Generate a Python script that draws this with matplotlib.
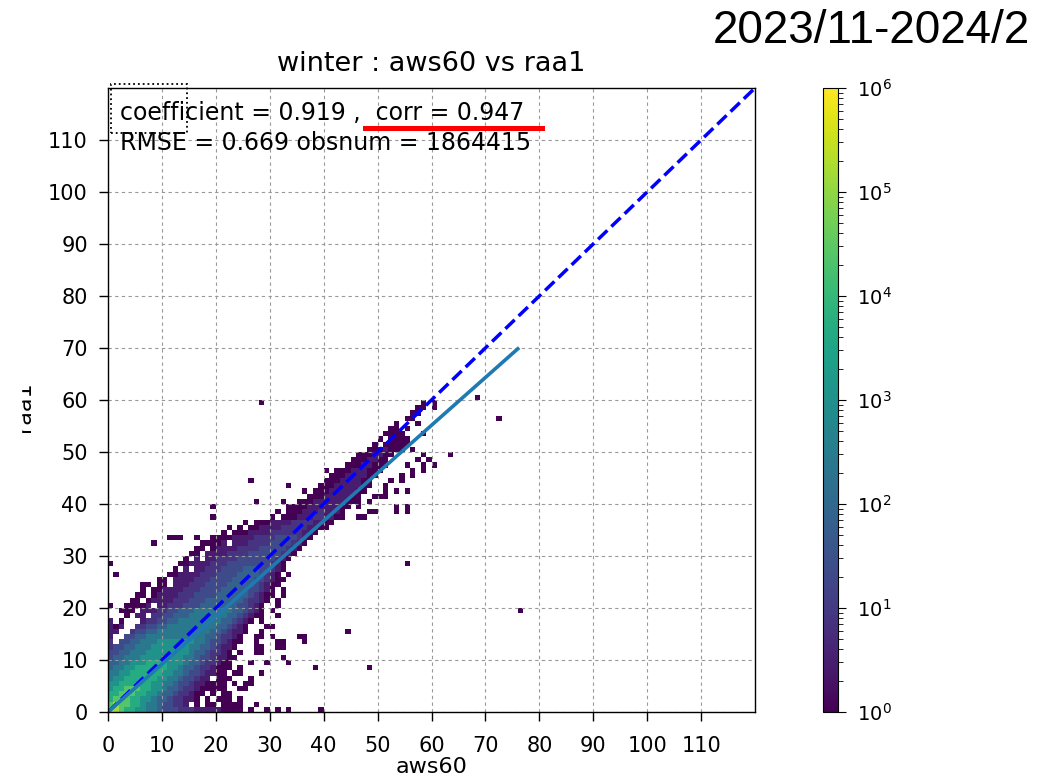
import numpy as np
import matplotlib.pyplot as plt
from matplotlib.colors import LogNorm
from matplotlib.patches import Rectangle
from matplotlib.lines import Line2D

# 1x1 bins: (y bin, first x bin, levels)
# each digit is a colour level, '.' is an empty bin
hist_rows = [
    (0, 0, "9987766554 3332221111 10000.0..0 .0.0.....0"),
    (1, 0, "8988776554 33221.0.00 .0000..0.."),
    (2, 0, "7888776654 4322110.0. 000.0"),
    (3, 0, "7788877665 44322100.0 .00"),
    (4, 0, "6778887766 5443221000 00..00"),
    (5, 0, "6677777766 5543321100 00.0.00"),
    (6, 0, "5667777776 655433211. 000...0"),
    (7, 0, "5566777777 6655433211 00.00...0"),
    (8, 0, "4556677777 7665443221 000.0..... ........0. ........0"),
    (9, 0, "4455666777 7666544322 100...0..0 ...0"),
    (10, 0, "3445556666 6666554332 1100...... ..0"),
    (11, 0, "3344555666 6666654432 210.0..00"),
    (12, 0, "2334455566 6666655443 2110...00. .00"),
    (13, 0, "2.33445556 6666665543 32100..0.. .00...0"),
    (14, 0, "1..3344555 5555555544 32210..00. 0....00"),
    (15, 0, "11..233445 5555555554 432110..0. .......... ....0"),
    (16, 0, "101..22334 4555555555 443210...0 0"),
    (17, 0, "1.0...1223 3445555555 5443210.0"),
    (18, 0, "...0.11.22 3344455555 554432100. .0"),
    (19, 0, "..000.1112 2334445555 555443210. 0"),
    (20, 0, "0..00001.1 1222333444 444433210. .0"),
    (21, 0, "....00.011 1122233344 4444432210 .0"),
    (22, 0, ".....00.01 1112223333 4444443210 0.0"),
    (23, 0, "......0.00 1111222333 3444443321 0.0"),
    (24, 0, "......00.0 0.11122233 3344444321 00"),
    (25, 0, ".........0 0.11112223 3334444332 100"),
    (26, 0, ".0........ .001111222 3333444432 10.0"),
    (27, 0, ".......... ..0.1.1122 2333344433 210"),
    (28, 0, "0......... ...0011112 2233333333 210"),
    (29, 0, ".......... ....0.1.11 2222333333 3210"),
    (30, 0, ".......... .....00.11 1122223333 33210"),
    (31, 0, ".......... ......00.0 1111222233 333210"),
    (32, 0, "........0. .......000 01.1112222 3333210"),
    (33, 0, ".......... .000..0..0 0001111222 23333210"),
    (34, 20, ".0.0001111 222222110"),
    (35, 20, "..0.0.0011 1122222110 0"),
    (36, 20, ".....0.000 1111222211 00"),
    (37, 30, "0.00011122 1100..00"),
    (38, 30, ".0.0001112 1110....00 ...0.0"),
    (39, 30, "...0000111 11100.0... ...0.0"),
    (40, 20, ".......0.. ..0..00011 1111000.0"),
    (41, 30, ".......000 1111100..000"),
    (42, 30, "......0.00 01111100...0.0.0"),
    (43, 30, "...0.....0 001111100..0"),
    (44, 20, "......0... .......... 000111100...0.0"),
    (45, 40, ".000111100....0.0"),
    (46, 40, "0.000111000.....0.0"),
    (47, 40, "....00011000...0..0.0"),
    (48, 40, ".....0001100.....0.0"),
    (49, 40, "......0001100.....0....0"),
    (50, 40, "........0001000.0"),
    (51, 40, ".........0.00000"),
    (52, 40, "..........0.0000"),
    (53, 40, "...........0000...0"),
    (54, 40, "............00.0"),
    (55, 40, ".............0...0"),
]

# log10 of the count for each colour level 0..9
level_log10 = [0, 0.45, 0.9, 1.35, 1.85, 2.4, 3.0, 3.7, 4.4, 5.2]

# isolated single-count bins
single_x = [55, 56, 72, 56, 57, 57, 58, 60, 28, 58, 60, 68, 76, 55, 19, 19]
single_y = [56, 56, 56, 57, 57, 58, 58, 58, 59, 59, 59, 60, 19, 28, 39, 37]

coef = 0.919
fit_xmax = 76
ticks = list(range(0, 120, 10))

xs, ys, ws = [], [], []
for yb, xb, cells in hist_rows:
    for i, ch in enumerate(cells.replace(" ", "")):
        if ch != ".":
            xs.append(xb + i + 0.5)
            ys.append(yb + 0.5)
            ws.append(10 ** level_log10[int(ch)])
for xb, yb in zip(single_x, single_y):
    xs.append(xb + 0.5)
    ys.append(yb + 0.5)
    ws.append(1.0)

W, H = 1051, 782
fig = plt.figure(figsize=(W / 100, H / 100), dpi=100)
ax = fig.add_axes([108 / W, 1 - 712 / H, 647 / W, 624 / H])

h = ax.hist2d(xs, ys, bins=120, range=[[0, 120], [0, 120]], weights=ws,
              cmin=1, cmap="viridis", norm=LogNorm(vmin=1, vmax=1e6))

ax.plot([0, 120], [0, 120], "b--", lw=2.5)
fx = np.array([0, fit_xmax])
ax.plot(fx, coef * fx, color="#1f7ab2", lw=2.6)

ax.set_xlim(0, 120)
ax.set_ylim(0, 120)
ax.set_xticks(ticks)
ax.set_yticks(ticks)
ax.grid(True, color="#999999", linestyle=(0, (3, 3)), lw=0.8)
ax.tick_params(labelsize=15, length=6.5, width=1)
ax.tick_params(axis="x", pad=11)
ax.tick_params(axis="y", pad=8)
for sp in ax.spines.values():
    sp.set_linewidth(1.0)

ax.set_xlabel("aws60", fontsize=16)
ax.xaxis.set_label_coords(0.5, (712 - 757) / 624)
ax.set_ylabel("raa1", fontsize=16)
ax.yaxis.set_label_coords((34 - 108) / 647, 0.49)

cax = fig.add_axes([823 / W, 1 - 712 / H, 15 / W, 624 / H])
cb = fig.colorbar(h[3], cax=cax)
cb.ax.tick_params(which="major", labelsize=14, length=6, pad=8)
cb.ax.tick_params(which="minor", length=3.5)

fig.text(431.5 / W, 1 - 71 / H, "winter : aws60 vs raa1", ha="center",
         va="baseline", fontsize=19.5)
fig.text(1030 / W, 1 - 43 / H, "2023/11-2024/2", ha="right", va="baseline",
         fontsize=33, family="Liberation Sans")
fig.text(120 / W, 1 - 120 / H, "coefficient = 0.919 ,  corr = 0.947",
         va="baseline", fontsize=17)
fig.text(120 / W, 1 - 150 / H, "RMSE = 0.669 obsnum = 1864415",
         va="baseline", fontsize=17)

# annotations drawn on the slide
fig.add_artist(Rectangle((111 / W, 1 - 133 / H), 76 / W, 49 / H,
                         transform=fig.transFigure, fill=False, ls=":",
                         lw=1.3, ec="black"))
fig.add_artist(Line2D([365 / W, 542 / W], [1 - 128 / H, 1 - 128 / H],
                      transform=fig.transFigure, color="red", lw=3.6))
fig.add_artist(Rectangle((0, 0.3), 20.5 / W, 0.4, transform=fig.transFigure,
                         color="white", zorder=5))

fig.savefig("out.png", dpi=100)
